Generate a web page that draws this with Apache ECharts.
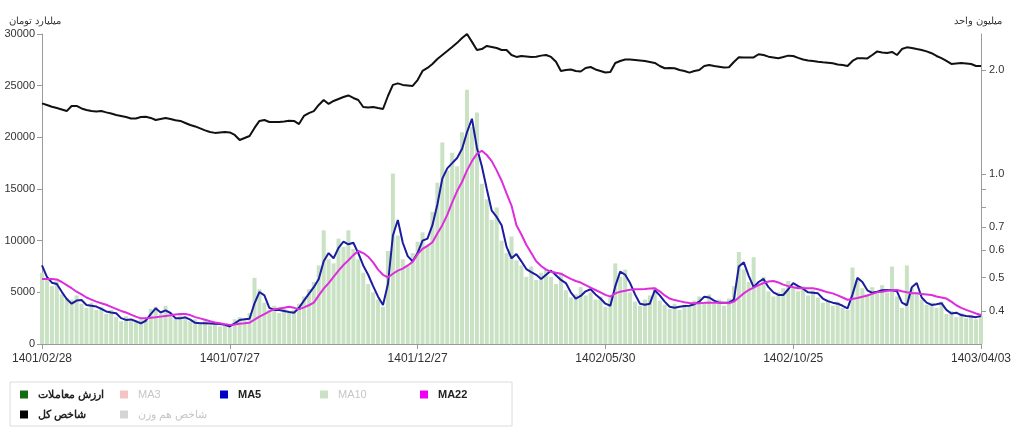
<!DOCTYPE html>
<html><head><meta charset="utf-8">
<script src="https://cdn.jsdelivr.net/npm/echarts@6/dist/echarts.min.js"></script>
<style>html,body{margin:0;padding:0;background:#fff}#c{width:1024px;height:432px}</style>
</head><body><div id="c"></div>
<script>
const xTickLabels = ['1401/02/28','1401/07/27','1401/12/27','1402/05/30','1402/10/25','1403/04/03'];
const leftTicks = [0,5000,10000,15000,20000,25000,30000];
const rightTickValues = [0.4,0.5,0.6,0.7,0.8,0.9,1.0,2.0];
const rightLabelValues = [0.4,0.5,0.6,0.7,1.0,2.0];

const tradeValue = [6900,6200,5600,6300,4800,4500,4300,4700,3900,3500,
4000,3300,3600,2900,3300,2600,2200,2700,2300,2100,
2400,2500,3400,3600,2900,3700,2800,2400,2900,2500,
2200,2400,1900,2300,1800,2100,1700,2000,1600,2400,
2600,2300,3000,6400,5300,4000,3300,3700,3000,3400,
3000,3300,3900,4600,5300,6000,7600,11000,8200,7800,
10200,9400,11000,9200,8200,6900,5800,5000,4300,3600,
9000,16500,10500,8200,7600,8800,9900,10800,9600,12800,
15600,19500,16800,18500,17200,20500,24600,21000,22400,15500,
14000,12000,13200,10000,8800,10400,8100,7600,6500,7500,
6200,6900,7300,6500,5800,6900,5200,4500,4800,5500,
4700,5000,4300,4600,3600,4500,7800,6500,7200,5000,
4100,3700,4300,4700,5500,4200,3800,3400,3900,3300,
3800,3600,4200,4600,4000,4800,3900,4300,3700,4400,
5600,8900,7200,6000,8400,5700,6500,5100,4600,5000,
5400,6100,5500,5100,5600,4700,5200,4500,4000,4300,
3700,4100,3500,3300,7400,6200,5400,4800,5500,4900,
5700,5000,7500,4600,3500,7600,5400,5000,4300,3800,
4000,3500,4100,2900,3200,2600,3000,2500,2800,2400,
2700];

const ma5 = [7600,6500,5930,5800,5050,4350,3900,4200,4250,3780,
3700,3620,3400,3150,3050,2980,2500,2330,2380,2200,
2000,2250,2900,3450,3050,3250,3000,2500,2480,2580,
2350,2050,2000,2000,1980,1950,1930,1850,1700,2000,
2320,2400,2450,3935,5030,4700,3500,3300,3290,3200,
3100,3030,3500,4200,4850,5500,6300,8000,8800,8300,
9300,9900,9650,9800,8800,7600,6700,5600,4580,3780,
5800,10500,12000,9800,8500,8000,8800,10000,10200,11500,
13500,16000,17000,17500,18000,18900,20500,21800,19000,17200,
15000,12900,12300,11500,9400,8300,8700,8000,7250,6950,
6700,6300,6700,7100,6650,6200,5900,5000,4400,4650,
5100,5300,4800,4400,3900,3700,5600,7000,6700,5900,
4800,3900,3800,3900,5200,4700,4100,3600,3500,3600,
3680,3700,3850,4100,4580,4500,4200,4000,4000,4000,
4300,7500,7900,6600,5500,6000,6300,5500,5000,4750,
4740,5300,5900,5600,5350,5000,4950,4900,4400,4150,
4000,3900,3700,3450,4800,6400,6000,5200,4950,5050,
5200,5230,5200,5100,4000,3750,5500,5900,4500,4000,
3780,3850,3950,3300,2950,3030,2800,2700,2650,2600,
2700];

const ma22 = [6300,6300,6280,6250,6000,5700,5400,5060,4800,4500,
4300,4100,3950,3800,3600,3400,3200,3050,2850,2650,
2480,2500,2540,2580,2650,2720,2780,2850,2900,2900,
2800,2600,2480,2350,2200,2080,2000,1920,1850,1880,
1950,2000,2064,2350,2645,2900,3150,3355,3440,3500,
3613,3500,3355,3550,3750,4000,4700,5350,5900,6500,
7100,7645,8100,8600,9000,8800,8450,7900,7200,6700,
6450,6800,7100,7300,7600,7950,8700,9200,9500,9850,
10700,11500,12500,13700,14800,15700,16800,17700,18400,18700,
18290,17700,16800,15800,14580,13400,11500,10600,9600,8800,
8000,7550,7200,7000,6900,6800,6550,6300,6100,5950,
5700,5450,5226,5000,4750,4580,4900,5064,5150,5250,
5290,5300,5330,5370,5390,5100,4700,4400,4250,4150,
4050,3970,3940,3950,3980,4000,4000,4000,3980,3950,
4100,4500,4900,5226,5450,5700,5900,6050,6100,5950,
5750,5600,5500,5390,5390,5390,5390,5300,5150,5000,
4900,4700,4500,4280,4350,4450,4580,4700,4850,5000,
5064,5150,5200,5226,5100,5000,4906,4900,4850,4800,
4742,4600,4500,4400,4100,3750,3500,3300,3130,2950,
2800];

const totalIndex = [1.600,1.583,1.565,1.551,1.536,1.520,1.573,1.573,1.547,1.531,
1.520,1.515,1.520,1.507,1.495,1.481,1.471,1.461,1.447,1.447,
1.461,1.464,1.452,1.432,1.442,1.452,1.442,1.429,1.423,1.404,
1.385,1.372,1.354,1.336,1.322,1.314,1.318,1.322,1.318,1.296,
1.253,1.270,1.287,1.358,1.423,1.432,1.413,1.413,1.413,1.418,
1.425,1.423,1.394,1.471,1.500,1.520,1.583,1.637,1.594,1.626,
1.648,1.670,1.687,1.659,1.637,1.562,1.557,1.562,1.551,1.541,
1.681,1.810,1.829,1.810,1.804,1.798,1.870,1.987,2.027,2.082,
2.152,2.210,2.270,2.332,2.397,2.476,2.543,2.413,2.286,2.300,
2.348,2.332,2.316,2.286,2.286,2.210,2.182,2.196,2.189,2.182,
2.186,2.201,2.210,2.182,2.114,1.987,2.000,2.007,1.987,1.980,
2.027,2.040,2.007,1.987,1.967,1.973,2.096,2.124,2.145,2.145,
2.138,2.131,2.124,2.110,2.096,2.054,2.023,2.027,2.023,2.000,
1.987,1.965,1.987,2.000,2.054,2.068,2.054,2.045,2.034,2.037,
2.110,2.177,2.175,2.172,2.175,2.221,2.210,2.186,2.175,2.164,
2.182,2.201,2.196,2.168,2.145,2.131,2.124,2.114,2.106,2.100,
2.091,2.075,2.068,2.054,2.124,2.164,2.164,2.161,2.210,2.264,
2.249,2.241,2.256,2.210,2.300,2.326,2.316,2.300,2.286,2.264,
2.237,2.196,2.164,2.124,2.082,2.089,2.096,2.089,2.082,2.054,
2.054];

const N = tradeValue.length;
const step = (N - 1) / (xTickLabels.length - 1);
const pairs = a => a.map((v, i) => [i, v]);
const FONT = '"Liberation Sans", Arial, sans-serif';
const AX = '#9a9a9a';

const chart = echarts.init(document.getElementById('c'), null, {renderer: 'canvas'});
chart.setOption({
  animation: false,
  grid: {left: 42, right: 43, top: 34, bottom: 88},
  xAxis: {
    type: 'value', min: 0, max: N - 1, interval: step,
    axisLine: {lineStyle: {color: AX}},
    axisTick: {show: true, length: 5, lineStyle: {color: AX}},
    splitLine: {show: false},
    axisLabel: {formatter: v => xTickLabels[Math.round(v / step)] || '', color: '#333', fontSize: 12, margin: 9, fontFamily: FONT}
  },
  yAxis: [{
    type: 'value', min: leftTicks[0], max: leftTicks[leftTicks.length - 1], interval: leftTicks[1] - leftTicks[0],
    position: 'left', name: 'میلیارد تومان', nameLocation: 'end', nameGap: 8,
    nameTextStyle: {color: '#333', fontSize: 10, align: 'center', padding: [0, 14, 0, 0]},
    axisLine: {show: true, lineStyle: {color: AX}},
    axisTick: {show: true, length: 5, lineStyle: {color: AX}},
    splitLine: {show: false},
    axisLabel: {color: '#333', fontSize: 11, margin: 7, fontFamily: FONT, formatter: v => String(v)}
  }, {
    type: 'log', logBase: 10, min: 0.3209, max: 2.543, position: 'right',
    name: 'میلیون واحد', nameLocation: 'end', nameGap: 8,
    nameTextStyle: {color: '#333', fontSize: 10, align: 'center', padding: [0, 6, 0, 0]},
    axisLine: {show: true, lineStyle: {color: AX}},
    axisTick: {show: true, length: 5, lineStyle: {color: AX}, customValues: rightTickValues},
    splitLine: {show: false},
    axisLabel: {color: '#333', fontSize: 11, margin: 8, fontFamily: FONT, customValues: rightLabelValues,
      formatter: v => Number(v).toFixed(1)}
  }],
  legend: {
    left: 10, top: 382, width: 500, icon: 'rect', itemWidth: 8, itemHeight: 8, itemGap: 5,
    padding: [5, 8, 4, 10], borderColor: '#dcdcdc', borderWidth: 1, selectedMode: false,
    textStyle: {width: 77, overflow: 'truncate', fontSize: 11, fontWeight: 'bold', color: '#222', padding: [0, 0, 0, 5], lineHeight: 15, fontFamily: FONT},
    data: [
      {name: 'ارزش معاملات', itemStyle: {color: '#146c14'}},
      {name: 'MA3', textStyle: {color: '#c6c6c6', fontWeight: 'normal'}},
      {name: 'MA5'},
      {name: 'MA10', textStyle: {color: '#c6c6c6', fontWeight: 'normal'}},
      {name: 'MA22', textStyle: {width: 66}},
      {name: 'شاخص کل'},
      {name: 'شاخص هم وزن', textStyle: {color: '#c6c6c6', fontWeight: 'normal'}}
    ]
  },
  series: [
    {name: 'ارزش معاملات', type: 'bar', yAxisIndex: 0, data: pairs(tradeValue), barWidth: 4,
      itemStyle: {color: '#c9e2c3'}},
    {name: 'MA3', type: 'line', yAxisIndex: 0, data: [], itemStyle: {color: '#f4c4c4'}},
    {name: 'MA5', type: 'line', yAxisIndex: 0, data: pairs(ma5), showSymbol: false,
      itemStyle: {color: '#0000c8'}, lineStyle: {color: '#1c1ca0', width: 2}},
    {name: 'MA10', type: 'line', yAxisIndex: 0, data: [], itemStyle: {color: '#c9e2c3'}},
    {name: 'MA22', type: 'line', yAxisIndex: 0, data: pairs(ma22), showSymbol: false,
      itemStyle: {color: '#f000f0'}, lineStyle: {color: '#dd2ddd', width: 2}},
    {name: 'شاخص کل', type: 'line', yAxisIndex: 1, data: pairs(totalIndex), showSymbol: false,
      itemStyle: {color: '#000'}, lineStyle: {color: '#111', width: 2}},
    {name: 'شاخص هم وزن', type: 'line', yAxisIndex: 1, data: [], itemStyle: {color: '#d4d4d4'}}
  ]
});
</script></body></html>
